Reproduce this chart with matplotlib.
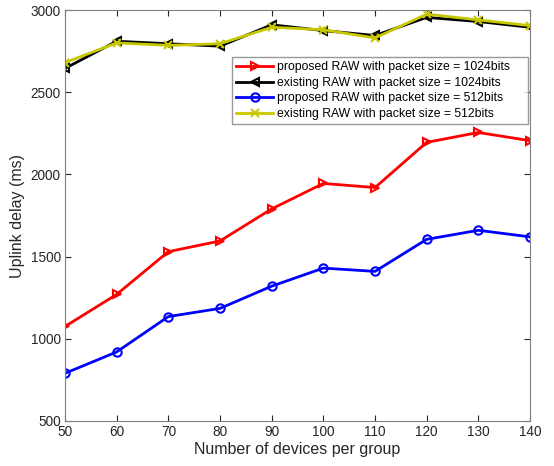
import matplotlib
matplotlib.use("Agg")
import matplotlib.pyplot as plt

plt.rcParams['font.family'] = ['Liberation Sans', 'DejaVu Sans']

devices = [50, 60, 70, 80, 90, 100, 110, 120, 130, 140]
proposed_1024 = [1075, 1270, 1530, 1595, 1790, 1945, 1920, 2195, 2255, 2205]
existing_1024 = [2645, 2810, 2795, 2780, 2910, 2875, 2845, 2955, 2930, 2895]
proposed_512 = [790, 920, 1135, 1185, 1320, 1430, 1410, 1605, 1660, 1620]
existing_512 = [2680, 2800, 2785, 2795, 2895, 2880, 2830, 2975, 2940, 2905]
labels = ["proposed RAW with packet size = 1024bits",
          "existing RAW with packet size = 1024bits",
          "proposed RAW with packet size = 512bits",
          "existing RAW with packet size = 512bits"]

fig = plt.figure(figsize=(5.54, 4.66), dpi=100)
ax = fig.add_axes([0.1173, 0.0966, 0.8394, 0.8819])

ax.plot(devices, proposed_1024, color='#ff0000', marker='>', lw=2, ms=6, mfc='none', mew=1.5, label=labels[0])
ax.plot(devices, existing_1024, color='#000000', marker='<', lw=2, ms=6, mfc='none', mew=1.5, label=labels[1])
ax.plot(devices, proposed_512, color='#0000ff', marker='o', lw=2, ms=6, mfc='none', mew=1.5, label=labels[2])
ax.plot(devices, existing_512, color='#c8c800', marker='x', lw=2, ms=6, mew=1.5, label=labels[3])

ax.set_xlim(50, 140)
ax.set_ylim(500, 3000)
ax.set_xticks(devices)
ax.set_yticks([500, 1000, 1500, 2000, 2500, 3000])
ax.tick_params(direction='in', top=True, right=True, labelsize=9.8, colors='#262626', length=4, pad=3)
for s in ax.spines.values():
    s.set_color('#808080')
ax.set_xlabel('Number of devices per group', fontsize=11.5, color='#262626', labelpad=2)
ax.set_ylabel('Uplink delay (ms)', fontsize=11.5, color='#262626', labelpad=4)

leg = ax.legend(loc='upper left', bbox_to_anchor=(0.359, 0.0, 0.637, 0.886), mode='expand',
                fontsize=8.8, frameon=True, fancybox=False, edgecolor='#808080',
                handlelength=3.0, handletextpad=0.3, labelspacing=0.3, borderpad=0.35,
                borderaxespad=0)
leg.get_frame().set_linewidth(1.0)

fig.savefig('out.png', dpi=100)
